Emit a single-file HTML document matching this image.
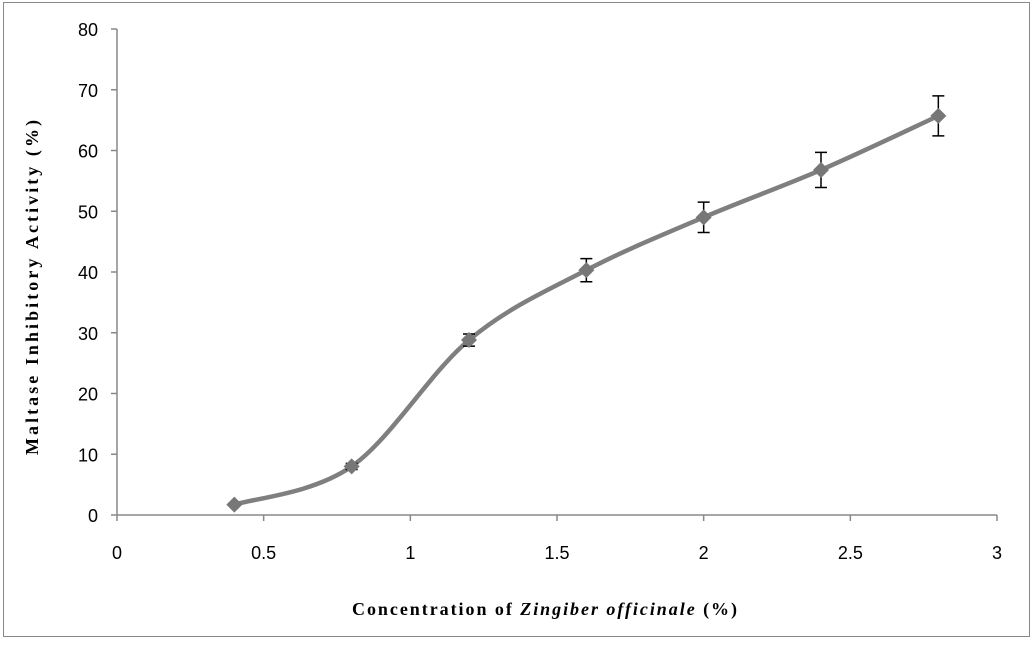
<!DOCTYPE html>
<html><head><meta charset="utf-8"><style>
body{margin:0;background:#fff}
svg text{font-family:"Liberation Serif",serif}
svg text.tick{font-family:"Liberation Sans",sans-serif}
</style></head><body>
<svg width="1034" height="641" viewBox="0 0 1034 641">
<rect x="3.5" y="2.5" width="1026" height="634" fill="#fff" stroke="#888" stroke-width="1"/>
<g id="axes"></g>
<g id="marks"></g>
<text x="352" y="615" font-size="18" font-weight="bold" textLength="385" lengthAdjust="spacing">Concentration of <tspan font-style="italic">Zingiber officinale</tspan> (%)</text>
<text transform="translate(38,455) rotate(-90)" font-size="18" font-weight="bold" textLength="335" lengthAdjust="spacing">Maltase Inhibitory Activity (%)</text>
</svg>
<script>
const xValues=[0.4,0.8,1.2,1.6,2.0,2.4,2.8];
const yValues=[1.7,8.0,28.8,40.3,49.0,56.8,65.7];
const yErrors=[0,0.5,1.0,1.9,2.5,2.9,3.3];
const xTicks=[0,0.5,1,1.5,2,2.5,3];
const xTickLabels=["0","0.5","1","1.5","2","2.5","3"];
const yTicks=[0,10,20,30,40,50,60,70,80];
const NS="http://www.w3.org/2000/svg";
const X=v=>117+v*(997-117)/3;
const Y=v=>515-v*(515-29)/80;
function mk(tag,attrs,parent){const e=document.createElementNS(NS,tag);for(const k in attrs)e.setAttribute(k,attrs[k]);parent.appendChild(e);return e;}
const ax=document.getElementById('axes'),mg=document.getElementById('marks');
let a=mk('line',{x1:117,y1:Y(80),x2:117,y2:515,stroke:'#888','stroke-width':1.5},ax);

a=mk('line',{x1:117,y1:515,x2:X(3),y2:515,stroke:'#888','stroke-width':1.5},ax);

yTicks.forEach(t=>{
 const l=mk('line',{x1:111,y1:Y(t),x2:117,y2:Y(t),stroke:'#888','stroke-width':1.5},ax);
 
 const tx=mk('text',{x:98,y:Y(t)+7,'text-anchor':'end','font-size':18,fill:'#000','class':'tick'},ax);
 tx.textContent=String(t);
 
});
xTicks.forEach((t,i)=>{
 const l=mk('line',{x1:X(t),y1:515,x2:X(t),y2:521,stroke:'#888','stroke-width':1.5},ax);
 
 const tx=mk('text',{x:X(t),y:559,'text-anchor':'middle','font-size':18,fill:'#000','class':'tick'},ax);
 tx.textContent=xTickLabels[i];
 
});
const P=xValues.map((x,i)=>[X(x),Y(yValues[i])]);
let d='M'+P[0][0]+','+P[0][1];
for(let i=0;i<P.length-1;i++){
 const p0=P[Math.max(0,i-1)],p1=P[i],p2=P[i+1],p3=P[Math.min(P.length-1,i+2)];
 const c1=[p1[0]+(p2[0]-p0[0])/6,p1[1]+(p2[1]-p0[1])/6],c2=[p2[0]-(p3[0]-p1[0])/6,p2[1]-(p3[1]-p1[1])/6];
 d+=` C${c1[0]},${c1[1]} ${c2[0]},${c2[1]} ${p2[0]},${p2[1]}`;
}
const line=mk('path',{d:d,fill:'none',stroke:'#7f7f7f','stroke-width':4.5},mg);

xValues.forEach((x,i)=>{
 const cx=X(x),y=yValues[i],e=yErrors[i];
 if(e>0){
  const g=mk('path',{d:`M${cx},${Y(y+e)}V${Y(y-e)}M${cx-6},${Y(y+e)}H${cx+6}M${cx-6},${Y(y-e)}H${cx+6}`,stroke:'#000','stroke-width':1.5,fill:'none'},mg);
  
 }
 const cy=Y(y);
 const m=mk('polygon',{points:`${cx},${cy-8} ${cx+8},${cy} ${cx},${cy+8} ${cx-8},${cy}`,fill:'#777'},mg);
 
});
</script>
</body></html>
